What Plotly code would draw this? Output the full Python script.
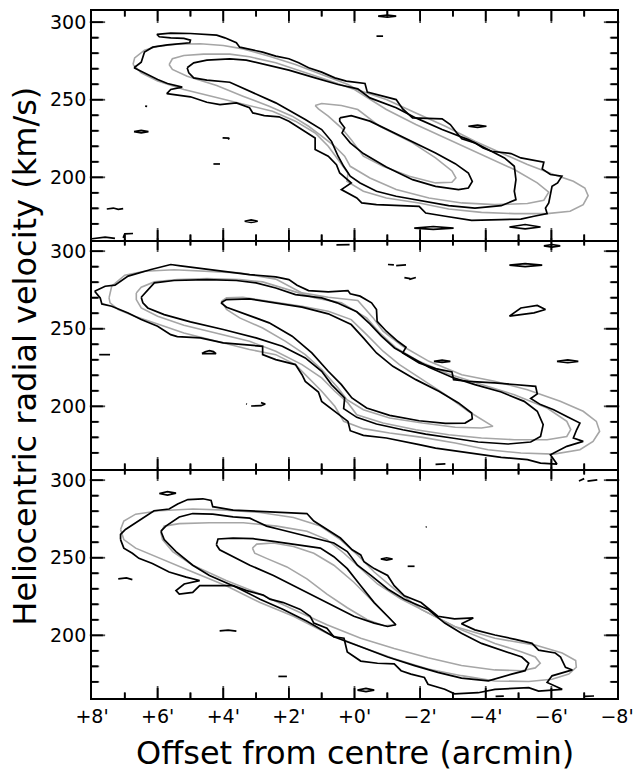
import plotly.graph_objects as go

# ---------------- axis data ----------------
X_TICK_VALUES = [8, 6, 4, 2, 0, -2, -4, -6, -8]
X_TICK_LABELS = ["+8'", "+6'", "+4'", "+2'", "+0'", "−2'", "−4'", "−6'", "−8'"]
X_MINOR_VALUES = [7, 5, 3, 1, -1, -3, -5, -7]
Y_TICK_VALUES = [200, 250, 300]
Y_MINOR_VALUES = [170, 180, 190, 210, 220, 230, 240, 260, 270, 280, 290]
X_RANGE = [8, -8]
Y_RANGE = [159.6, 307.2]
X_TITLE = "Offset from centre (arcmin)"
Y_TITLE = "Heliocentric radial velocity (km/s)"

# ---------------- top panel (offset, velocity) ----------------
TOP_OBS_OUTER = [(6.72,270.6),(6.50,274.2),(6.40,280.7),(6.15,283.9),(5.70,285.4),(5.30,286.1),(5.02,286.7),(5.00,288.4),
    (5.20,289.5),(5.60,289.9),(5.95,290.6),(6.02,292.1),(5.60,292.9),(5.00,292.7),(4.20,291.6),(3.95,289.9),(3.60,286.7),
    (3.50,283.9),(3.20,282.4),(2.80,280.7),(2.40,278.1),(2.00,276.4),(1.70,273.8),(1.40,270.6),(1.00,267.8),(0.60,264.1),
    (0.25,262.0),(0.13,261.6),(-0.32,260.5),(-0.39,254.9),(-1.27,250.1),(-1.47,244.1),(-1.77,238.3),(-2.67,237.7),
    (-2.92,234.0),(-3.12,228.6),(-3.27,224.8),(-3.67,222.2),(-3.92,218.9),(-4.17,216.8),(-4.77,215.3),(-5.07,212.5),
    (-5.77,209.7),(-5.72,205.4),(-5.97,201.8),(-6.32,200.7),(-6.19,196.4),(-6.02,194.2),(-5.97,188.8),(-5.92,183.5),
    (-5.82,180.2),(-5.87,176.6),(-5.47,174.9),(-5.07,173.1),(-4.47,172.7),(-3.57,172.3),(-2.77,174.9),(-2.17,177.0),
    (-1.97,181.3),(-0.67,182.4),(-0.22,183.5),(-0.07,186.7),(0.40,192.1),(0.10,196.4),(0.45,202.8),(0.55,208.2),
    (0.80,213.6),(1.20,217.9),(1.20,225.4),(1.60,230.8),(2.00,236.2),(2.30,239.0),(2.75,239.8),(3.10,241.5),(3.20,244.8),
    (3.60,248.0),(4.10,246.9),(4.50,248.4),(5.00,251.9),(5.72,254.0),(5.60,256.6),(5.25,258.1),(5.70,260.5),(6.00,263.0),
    (6.40,267.3),(6.72,270.6)]
TOP_OBS_MID = [(5.10,270.6),(4.90,273.8),(4.50,275.5),(3.80,276.4),(3.30,275.5),(2.70,272.7),(2.00,269.1),(1.20,264.1),
    (0.50,259.8),(-0.10,257.0),(-0.47,251.2),(-1.27,244.8),(-1.87,238.3),(-2.67,230.8),(-3.47,224.3),(-4.07,217.9),
    (-4.57,212.5),(-4.87,207.1),(-4.92,198.5),(-4.87,191.0),(-4.92,185.6),(-4.47,181.7),(-3.67,180.2),(-2.87,181.7),
    (-2.07,184.6),(-1.27,187.8),(-0.67,191.0),(-0.17,196.4),(0.13,200.7),(0.33,207.1),(0.50,213.6),(0.70,223.2),
    (1.00,230.8),(1.50,237.2),(2.40,248.0),(3.20,255.5),(3.80,261.3),(4.50,262.6),(4.90,264.1),(5.05,267.3),(5.10,270.6)]
TOP_OBS_INNER = [(0.45,238.3),(0.10,239.8),(-0.47,236.2),(-1.17,229.1),(-1.87,222.2),(-2.47,215.7),(-3.07,208.8),
    (-3.47,202.8),(-3.59,197.4),(-3.47,193.1),(-3.17,192.1),(-2.47,194.2),(-1.77,198.5),(-0.97,206.7),(-0.27,215.3),
    (0.13,222.2),(0.38,228.6),(0.30,231.9),(0.45,236.2),(0.45,238.3)]
TOP_MOD_OUTER = [(6.75,272.7),(6.70,277.0),(6.40,282.0),(6.00,284.5),(5.40,285.8),(4.70,286.1),(4.00,285.0),(3.40,282.8),
    (2.60,278.1),(1.80,272.7),(1.00,266.3),(0.20,259.8),(-0.07,256.6),(-0.97,250.1),(-1.87,241.5),(-2.77,232.9),
    (-3.67,223.3),(-4.47,215.7),(-5.27,208.2),(-6.07,201.8),(-6.67,197.4),(-7.02,193.1),(-7.12,188.2),(-6.97,182.4),
    (-6.57,178.1),(-5.87,176.6),(-4.87,176.6),(-3.87,177.4),(-2.87,179.6),(-1.97,183.5),(-0.97,186.7),(-0.27,191.0),
    (0.23,197.4),(0.20,202.8),(0.50,211.4),(0.80,220.0),(1.20,228.6),(1.80,236.2),(2.50,242.6),(3.50,248.0),(4.30,251.9),
    (5.20,256.6),(6.00,262.0),(6.50,267.3),(6.75,272.7)]
TOP_MOD_MID = [(5.65,272.7),(5.55,276.4),(5.20,278.5),(4.60,279.4),(3.80,279.4),(3.20,277.7),(2.40,273.8),(1.60,268.4),
    (0.80,262.6),(0.00,256.6),(-0.97,243.7),(-1.87,234.0),(-2.87,224.3),(-3.87,214.6),(-4.87,205.0),(-5.57,196.4),
    (-5.92,190.4),(-5.77,185.2),(-5.27,183.1),(-4.27,182.4),(-3.27,183.5),(-2.27,186.7),(-1.27,192.1),(-0.47,199.6),
    (0.13,207.1),(0.30,213.6),(0.60,220.0),(1.00,226.5),(1.40,232.9),(1.90,239.4),(2.60,245.8),(3.40,252.3),(4.20,259.2),
    (5.10,265.2),(5.55,269.5),(5.65,272.7)]
TOP_MOD_INNER = [(1.20,246.3),(1.00,247.6),(0.40,246.3),(-0.10,243.7),(-0.77,232.9),(-1.77,222.2),(-2.47,212.5),
    (-2.97,204.1),(-3.09,199.6),(-2.97,196.8),(-2.47,196.4),(-1.67,200.7),(-0.87,207.1),(-0.27,213.6),(0.10,224.3),
    (0.40,231.9),(0.80,239.4),(1.10,244.1),(1.20,246.3)]
TOP_SPECKS = [
    [(6.38,245.9),(6.32,245.7)],
    [(6.72,229.4),(6.5,230.2),(6.28,229.4),(6.5,228.7),(6.72,229.4)],
    [(4.02,225.4),(3.82,225.2),(3.85,224.4)],
    [(4.30,208.6),(4.10,208.6)],
    [(3.35,171.7),(3.15,172.6),(2.95,171.7),(3.15,170.9),(3.35,171.7)],
    [(7.55,179.6),(7.35,180.2),(7.20,179.4),(7.05,179.8)],
    [(8.0,160.4),(7.6,161.5),(7.3,160.6)],
    [(7.05,161.0),(7.0,163.6),(6.75,163.8)],
    [(-0.72,303.9),(-1.0,304.6),(-1.27,303.9),(-1.0,303.3),(-0.72,303.9)],
    [(-0.67,291.0),(-0.87,291.0)],
    [(-3.47,232.9),(-3.75,233.7),(-4.02,232.9),(-3.75,232.2),(-3.47,232.9)],
    [(-1.82,167.3),(-2.4,168.3),(-3.02,167.3),(-2.4,166.5),(-1.82,167.3)],
    [(-4.72,168.0),(-5.2,169.6),(-5.67,168.0),(-5.2,166.8),(-4.72,168.0)],
]

# ---------------- middle panel ----------------
MID_OBS_OUTER = [(7.92,274.2),(7.60,277.4),(7.30,278.1),(6.90,283.9),(6.20,288.2),(5.60,291.4),(5.30,290.5),(4.70,288.8),
    (4.00,286.7),(3.20,284.9),(2.40,283.4),(2.00,281.7),(1.75,278.1),(1.40,274.6),(0.80,273.8),(0.20,274.6),(0.13,272.5),
    (-0.17,271.0),(-0.52,266.7),(-0.67,262.4),(-0.69,254.8),(-0.97,248.4),(-1.32,241.9),(-1.57,238.1),(-1.47,234.4),
    (-1.97,228.0),(-2.47,224.3),(-2.97,222.2),(-3.02,217.2),(-3.47,216.1),(-4.27,215.1),(-5.07,214.0),(-5.52,212.9),
    (-5.57,208.0),(-5.37,205.0),(-5.67,201.1),(-6.07,197.8),(-6.47,193.5),(-6.87,189.2),(-6.77,184.9),(-6.67,179.6),
    (-6.97,177.4),(-6.47,174.2),(-5.97,168.8),(-6.17,162.8),(-5.67,163.4),(-5.27,165.6),(-4.47,167.1),(-3.87,168.8),
    (-3.07,171.0),(-2.47,173.1),(-1.97,175.3),(-0.97,179.6),(-0.27,181.3),(0.13,184.3),(0.20,190.3),(0.60,196.8),
    (1.00,203.2),(1.10,209.2),(1.50,216.1),(1.60,220.4),(1.80,226.9),(2.40,230.1),(2.80,233.3),(2.80,238.7),(3.40,239.8),
    (4.00,240.9),(4.70,244.1),(5.40,244.9),(5.60,246.2),(6.00,251.6),(6.50,255.9),(6.90,260.2),(7.40,264.5),(7.70,266.0),
    (7.75,269.9),(7.92,274.2)]
MID_OBS_MID = [(6.50,270.3),(6.30,275.3),(6.10,279.6),(5.50,281.1),(4.50,281.7),(3.60,281.1),(3.00,279.6),(2.40,276.3),
    (1.80,272.0),(1.00,269.9),(0.53,266.7),(-0.07,260.9),(-0.47,253.1),(-0.82,245.2),(-1.22,237.6),(-1.67,232.3),
    (-2.27,225.2),(-2.97,218.7),(-3.67,214.0),(-4.47,209.2),(-5.17,203.2),(-5.57,196.8),(-5.75,188.2),(-5.67,180.6),
    (-5.37,177.0),(-4.67,175.7),(-3.77,177.0),(-2.97,179.6),(-2.17,182.1),(-1.47,184.9),(-0.67,188.6),(-0.07,192.9),
    (0.33,198.5),(0.30,205.4),(0.70,214.0),(1.00,222.6),(1.50,231.2),(2.20,238.7),(3.00,244.1),(4.00,249.5),(5.00,254.4),
    (5.80,259.1),(6.30,263.4),(6.45,266.7),(6.50,270.3)]
MID_OBS_INNER = [(4.07,266.7),(3.90,268.8),(3.20,269.2),(2.40,266.7),(1.60,263.9),(0.80,259.6),(0.10,252.7),(-0.27,244.1),
    (-0.67,234.4),(-1.17,225.8),(-1.87,217.2),(-2.57,209.7),(-3.17,202.2),(-3.57,195.7),(-3.59,192.0),(-3.37,189.2),
    (-2.77,189.0),(-1.97,190.7),(-1.07,194.2),(-0.37,198.9),(0.08,205.4),(0.40,214.0),(0.80,222.6),(1.30,234.4),
    (1.90,245.2),(2.60,253.8),(3.40,260.2),(3.90,263.9),(4.07,266.7)]
MID_MOD_OUTER = [(7.48,269.9),(7.40,277.4),(7.00,284.5),(6.40,287.1),(5.50,288.0),(4.50,287.1),(3.50,286.0),(2.40,282.0),
    (1.60,273.1),(0.80,270.3),(-0.10,268.2),(-0.57,257.0),(-0.87,248.4),(-1.47,238.7),(-2.27,229.0),(-3.27,220.4),
    (-4.27,216.1),(-5.27,210.7),(-6.27,203.2),(-6.97,196.8),(-7.37,190.3),(-7.47,183.9),(-7.27,177.4),(-6.87,172.0),
    (-6.07,169.2),(-5.07,169.9),(-4.07,172.0),(-3.07,176.4),(-2.07,180.0),(-1.07,182.8),(-0.27,185.6),(0.33,190.3),
    (0.60,200.0),(1.00,209.7),(1.40,218.3),(1.80,226.9),(2.40,233.3),(3.20,236.6),(4.20,241.9),(5.20,247.3),(6.00,253.1),
    (6.70,258.1),(7.20,262.4),(7.45,266.7),(7.48,269.9)]
MID_MOD_MID = [(6.65,273.1),(6.50,276.8),(6.10,280.2),(5.40,281.7),(4.50,282.4),(3.50,281.7),(2.80,280.2),(2.00,275.3),
    (1.20,269.9),(0.40,266.7),(0.13,263.4),(-0.37,257.0),(-0.77,247.3),(-1.27,237.6),(-1.97,229.0),(-2.87,220.9),
    (-3.87,214.0),(-4.87,207.5),(-5.87,198.9),(-6.47,190.3),(-6.59,185.0),(-6.47,180.6),(-5.87,178.5),(-4.87,178.5),
    (-3.87,179.6),(-2.87,181.7),(-1.87,184.9),(-0.87,189.2),(-0.07,194.6),(0.20,202.2),(0.60,209.7),(1.00,218.3),
    (1.60,226.9),(2.40,235.5),(3.20,241.9),(4.20,247.3),(5.20,252.3),(6.00,258.1),(6.50,263.4),(6.65,268.8),(6.65,273.1)]
MID_MOD_INNER = [(4.05,267.7),(3.90,269.9),(3.40,270.3),(2.60,267.7),(1.60,264.5),(0.80,261.3),(0.10,255.9),(-0.37,246.2),
    (-0.87,235.5),(-1.37,226.9),(-2.07,217.2),(-2.77,207.5),(-3.47,196.8),(-4.07,189.2),(-4.22,187.1),(-3.87,186.0),
    (-3.07,186.5),(-2.07,189.2),(-1.07,192.5),(-0.27,197.8),(0.23,204.3),(0.50,211.8),(1.00,223.7),(1.50,233.3),
    (2.10,241.9),(2.80,250.5),(3.50,257.0),(3.90,262.4),(4.05,267.7)]
MID_SPECKS = [
    [(7.78,233.3),(7.45,233.3)],
    [(4.65,234.0),(4.55,235.2),(4.42,235.9),(4.30,235.3),(4.22,234.0),(4.65,234.0)],
    [(3.30,201.6),(3.28,201.4)],
    [(3.15,200.2),(2.85,200.4),(2.72,201.5),(2.85,202.4)],
    [(0.55,304.0),(0.15,304.2)],
    [(-1.02,291.4),(-1.20,291.2)], [(-1.27,290.7),(-1.57,291.2)],
    [(-1.52,283.0),(-1.70,282.3)], [(-1.67,281.8),(-1.87,283.0)],
    [(-4.72,291.0),(-5.2,292.0),(-5.72,291.0),(-5.2,290.1),(-4.72,291.0)],
    [(-4.72,258.1),(-5.07,263.4),(-5.57,265.0),(-5.82,262.4),(-5.47,260.2),(-5.07,259.1),(-4.72,258.1)],
    [(-2.42,229.0),(-2.67,229.8),(-2.92,229.0),(-2.67,228.3),(-2.42,229.0)],
    [(-6.17,229.0),(-6.5,229.9),(-6.82,229.0),(-6.5,228.2),(-6.17,229.0)],
    [(-5.77,303.4),(-6.02,304.3),(-6.27,303.4),(-6.02,302.6),(-5.77,303.4)],
    [(-2.47,162.6),(-2.77,162.9)],
]

# ---------------- bottom panel ----------------
BOT_OBS_OUTER = [(7.13,261.7),(7.13,265.0),(6.98,268.2),(6.67,272.6),(6.36,277.0),(6.11,280.3),(5.65,281.4),(5.39,284.7),
    (5.08,287.5),(4.62,288.0),(4.37,286.9),(4.32,282.9),(3.70,280.7),(2.88,279.9),(2.27,279.2),(1.45,278.5),(1.24,273.7),
    (0.84,268.2),(0.43,262.7),(0.07,255.1),(-0.19,251.8),(-0.29,247.4),(-0.60,243.0),(-1.01,238.6),(-1.21,232.0),
    (-1.52,225.5),(-2.03,221.1),(-2.54,212.3),(-3.05,210.6),(-3.62,211.2),(-3.26,207.5),(-3.67,203.5),(-4.28,200.2),
    (-4.90,197.4),(-5.41,194.8),(-5.61,190.4),(-6.12,188.6),(-6.28,186.0),(-6.43,179.4),(-6.64,177.7),(-6.02,173.9),
    (-5.87,169.6),(-6.33,165.2),(-5.61,164.1),(-5.31,166.3),(-4.28,165.2),(-3.77,163.0),(-3.05,162.3),(-2.75,165.2),
    (-2.24,168.5),(-2.13,172.8),(-1.72,175.0),(-1.42,177.2),(-1.21,181.6),(-0.70,182.0),(-0.19,183.4),(0.22,189.3),
    (0.32,198.1),(0.63,199.1),(0.84,204.6),(1.24,207.9),(1.35,212.3),(1.65,216.7),(2.17,221.1),(2.58,223.3),(2.78,225.9),
    (3.29,228.8),(3.70,232.0),(4.11,232.0),(4.72,232.0),(4.93,227.7),(5.34,226.6),(5.44,228.8),(5.19,233.1),(4.72,235.3),
    (5.13,237.5),(5.65,240.8),(6.16,246.3),(6.57,249.6),(6.77,252.9),(7.03,256.2),(7.13,261.7)]
BOT_OBS_MID = [(5.90,267.1),(5.75,270.4),(5.34,276.3),(4.93,278.5),(4.32,278.1),(3.70,276.3),(3.19,275.5),(2.68,270.4),
    (2.27,268.2),(1.76,265.4),(1.24,262.8),(0.63,259.5),(0.22,254.0),(-0.09,245.2),(-0.50,238.6),(-1.01,229.9),
    (-1.52,223.3),(-2.24,216.7),(-2.75,207.9),(-3.26,201.3),(-3.87,194.8),(-4.49,190.4),(-5.10,186.0),(-5.31,182.0),
    (-5.20,177.2),(-4.79,175.0),(-4.08,170.6),(-3.26,172.4),(-2.54,176.1),(-1.83,180.5),(-1.01,186.0),(-0.19,192.6),
    (0.63,199.1),(1.45,209.0),(2.17,216.7),(2.88,223.3),(3.60,231.0),(4.42,238.6),(4.93,245.2),(5.44,254.0),(5.80,261.7),
    (5.90,267.1)]
BOT_OBS_INNER = [(4.21,258.4),(4.16,262.1),(3.70,262.7),(3.09,262.3),(2.47,260.6),(1.86,258.8),(1.04,256.2),(0.63,250.7),
    (0.22,243.0),(-0.19,232.0),(-0.60,221.1),(-1.01,212.3),(-1.26,206.8),(-1.01,205.7),(-0.60,207.9),(0.02,212.3),
    (0.63,218.9),(1.24,225.5),(1.86,232.0),(2.47,238.6),(3.19,245.2),(3.70,250.7),(4.11,255.1),(4.21,258.4)]
BOT_MOD_OUTER = [(7.13,268.2),(7.03,273.7),(6.67,278.1),(5.95,280.3),(4.93,281.4),(3.91,280.7),(2.88,279.2),(1.86,275.9),
    (1.04,270.4),(0.43,261.7),(-0.09,251.8),(-0.60,240.8),(-1.21,229.9),(-2.03,216.7),(-3.05,205.7),(-4.28,198.1),
    (-5.51,193.7),(-6.33,188.6),(-6.74,183.8),(-6.76,179.4),(-6.53,175.0),(-6.02,171.7),(-5.31,170.2),(-4.28,170.6),
    (-3.26,174.0),(-2.24,178.3),(-1.21,184.9),(-0.19,192.6),(0.84,201.3),(1.86,212.3),(2.88,221.1),(3.91,232.0),
    (4.93,240.8),(5.95,249.6),(6.67,256.2),(7.03,261.7),(7.13,268.2)]
BOT_MOD_MID = [(5.90,266.0),(5.80,270.4),(5.34,272.0),(4.42,272.6),(3.39,272.6),(2.37,270.4),(1.45,267.1),(0.84,261.7),
    (0.32,252.9),(-0.19,243.0),(-0.70,233.1),(-1.42,223.3),(-2.24,214.5),(-3.26,203.5),(-4.28,194.8),(-5.10,189.3),
    (-5.51,186.0),(-5.66,182.0),(-5.51,179.0),(-5.10,177.2),(-4.28,177.7),(-3.26,180.5),(-2.24,185.6),(-1.21,191.5),
    (-0.19,198.1),(0.84,206.8),(1.86,216.7),(2.88,226.6),(3.91,235.3),(4.93,245.2),(5.54,254.0),(5.85,261.7),(5.90,266.0)]
BOT_MOD_INNER = [(3.11,256.2),(2.98,258.8),(2.47,259.5),(1.86,257.3),(1.24,252.9),(0.63,245.2),(0.02,234.2),(-0.60,221.1),
    (-1.11,210.1),(-1.26,206.8),(-0.90,206.2),(-0.39,210.1),(0.22,217.8),(0.84,226.6),(1.45,236.4),(2.06,244.1),
    (2.68,249.6),(3.04,252.9),(3.11,256.2)]
BOT_SPECKS = [
    [(5.95,291.4),(5.70,292.6),(5.44,291.6),(5.70,290.4),(5.95,291.4)],
    [(7.20,236.4),(6.95,237.0),(6.77,235.9)],
    [(4.11,202.9),(3.85,203.3),(3.60,202.7)],
    [(2.32,173.5),(2.06,173.5)],
    [(-0.09,164.7),(-0.35,165.8),(-0.60,164.7),(-0.35,163.7),(-0.09,164.7)],
    [(-0.80,249.2),(-0.98,250.0),(-1.16,249.2),(-0.98,248.5),(-0.80,249.2)],
    [(-1.62,244.5),(-1.83,244.5)],
    [(-2.17,269.8),(-2.20,269.9)],
    [(-6.84,299.5),(-7.00,301.0)], [(-7.10,299.4),(-7.40,300.2)],
    [(-4.30,160.6),(-4.55,160.8)], [(-7.00,160.6),(-7.30,160.9)],
]

OBS_COLOR = "#000000"
MOD_COLOR = "#a6a6a6"

PANELS = [
    ("3", [TOP_MOD_OUTER, TOP_MOD_MID, TOP_MOD_INNER], [TOP_OBS_OUTER, TOP_OBS_MID, TOP_OBS_INNER] + TOP_SPECKS),
    ("2", [MID_MOD_OUTER, MID_MOD_MID, MID_MOD_INNER], [MID_OBS_OUTER, MID_OBS_MID, MID_OBS_INNER] + MID_SPECKS),
    ("", [BOT_MOD_OUTER, BOT_MOD_MID, BOT_MOD_INNER], [BOT_OBS_OUTER, BOT_OBS_MID, BOT_OBS_INNER] + BOT_SPECKS),
]

FIG_W, FIG_H = 643, 776
MARGIN = dict(l=92, r=20, t=9, b=78)

fig = go.Figure()


def add_lines(contours, color, width, suffix):
    for pts in contours:
        fig.add_trace(go.Scatter(
            x=[p[0] for p in pts], y=[p[1] for p in pts], mode="lines",
            line=dict(color=color, width=width), xaxis="x" + suffix, yaxis="y" + suffix,
            showlegend=False, hoverinfo="skip"))


for suffix, model, observed in PANELS:
    add_lines(model, MOD_COLOR, 1.6, suffix)
    add_lines(observed, OBS_COLOR, 1.7, suffix)

# Inward tick marks on all four sides of every panel. Positions come from the tick lists;
# lengths are in pixels, converted with the axes' own pixel-per-unit scale.
plot_w = FIG_W - MARGIN["l"] - MARGIN["r"]
panel_h = (FIG_H - MARGIN["t"] - MARGIN["b"]) / 3
x_per_px = abs(X_RANGE[1] - X_RANGE[0]) / plot_w
y_per_px = (Y_RANGE[1] - Y_RANGE[0]) / panel_h
for suffix, _, _ in PANELS:
    tx, ty = [], []
    mx, my, msym, msize = [], [], [], []
    for vals, length in ((X_TICK_VALUES[1:-1], 10), (X_MINOR_VALUES, 5)):
        for v in vals:
            tx += [v, v, None, v, v, None]
            ty += [Y_RANGE[0], Y_RANGE[0] + length * y_per_px, None,
                   Y_RANGE[1], Y_RANGE[1] - length * y_per_px, None]
            mx += [v, v]
            my += [Y_RANGE[0] + length / 2 * y_per_px, Y_RANGE[1] - length / 2 * y_per_px]
            msym += ["line-ns", "line-ns"]
            msize += [length, length]
    for vals, length in ((Y_TICK_VALUES, 11), (Y_MINOR_VALUES, 6)):
        for v in vals:
            tx += [X_RANGE[0], X_RANGE[0] - length * x_per_px, None,
                   X_RANGE[1], X_RANGE[1] + length * x_per_px, None]
            ty += [v, v, None, v, v, None]
            mx += [X_RANGE[0] - length / 2 * x_per_px, X_RANGE[1] + length / 2 * x_per_px]
            my += [v, v]
            msym += ["line-ew", "line-ew"]
            msize += [length, length]
    fig.add_trace(go.Scatter(x=tx, y=ty, mode="lines", line=dict(color="black", width=1.8),
                             xaxis="x" + suffix, yaxis="y" + suffix, showlegend=False,
                             hoverinfo="skip", connectgaps=False, cliponaxis=False))
    fig.add_trace(go.Scatter(x=mx, y=my, mode="markers",
                             marker=dict(symbol=msym, size=msize, color="black",
                                         line=dict(color="black", width=1.8)),
                             xaxis="x" + suffix, yaxis="y" + suffix, showlegend=False,
                             hoverinfo="skip", cliponaxis=False))

tick_font = dict(family="DejaVu Sans", size=19, color="black")
domains = {"": [0.0, 1 / 3], "2": [1 / 3, 2 / 3], "3": [2 / 3, 1.0]}
layout = dict(
    width=FIG_W, height=FIG_H, margin=MARGIN,
    paper_bgcolor="white", plot_bgcolor="white", showlegend=False,
)
for suffix, dom in domains.items():
    layout["xaxis" + suffix] = dict(
        range=X_RANGE, domain=[0, 1], anchor="y" + suffix,
        showline=True, linecolor="black", linewidth=1.8, mirror=(suffix == "3"), ticks="",
        tickmode="array", tickvals=X_TICK_VALUES, ticktext=X_TICK_LABELS,
        showticklabels=(suffix == ""), tickfont=tick_font,
        showgrid=False, zeroline=False, fixedrange=True,
    )
    layout["yaxis" + suffix] = dict(
        range=Y_RANGE, domain=dom, anchor="x" + suffix,
        showline=True, linecolor="black", linewidth=1.8, mirror=True, ticks="",
        tickmode="array", tickvals=Y_TICK_VALUES, ticktext=[str(v) for v in Y_TICK_VALUES],
        tickfont=tick_font,
        showgrid=False, zeroline=False, fixedrange=True,
    )

layout["annotations"] = [
    dict(text=X_TITLE, x=0.5, y=-0.0794, xref="paper", yref="paper", showarrow=False,
         xanchor="center", yanchor="middle", font=dict(family="DejaVu Sans", size=32, color="black")),
    dict(text=Y_TITLE, x=-0.128, y=0.498, xref="paper", yref="paper", showarrow=False, textangle=-90,
         xanchor="center", yanchor="middle", font=dict(family="DejaVu Sans", size=32, color="black")),
]
fig.update_layout(**layout)
fig.write_html("out.html", config={"displayModeBar": False},
               post_script="document.body.style.margin='0';document.body.style.overflow='hidden';")
